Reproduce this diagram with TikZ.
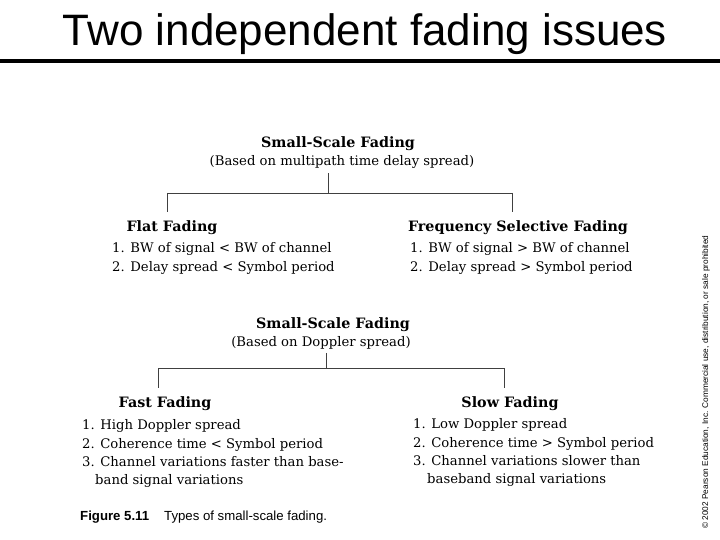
\documentclass[tikz,border=0pt]{standalone}
\usepackage{fontspec}
\setmainfont{DejaVu Serif}
\newfontfamily\titlefont{Liberation Sans}
\newfontfamily\dgfont{DejaVu Serif}
\begin{document}
\begin{tikzpicture}[x=1pt,y=-1pt,
  head/.style={inner sep=0pt,font=\dgfont\bfseries\fontsize{14.3}{16}\selectfont},
  body/.style={inner sep=0pt,font=\dgfont\fontsize{13.2}{15}\selectfont},
  conn/.style={draw=black!75,line width=0.9pt},
  capt/.style={inner sep=0pt,font=\titlefont\fontsize{13.2}{15}\selectfont}]
\useasboundingbox (0,0) rectangle (720,540);
\fill[white] (0,0) rectangle (720,540);
% title
\node[inner sep=0pt,anchor=base,font=\titlefont\fontsize{44}{48}\selectfont] (title) at (365,46) {Two independent fading issues};
\draw[line width=4pt] (0,61) -- (720,61);
% top tree
\node[head,anchor=base] (ssf1) at (338,148) {Small-Scale Fading};
\node[body,anchor=base] (based1) at (342,166) {(Based on multipath time delay spread)};
\coordinate (j1) at (328,193);
\coordinate (l1) at (167,193);
\coordinate (r1) at (512,193);
\draw[conn] (j1 |- based1.south) ++(0,4) -- (j1);
\draw[conn] (l1) -- (r1);
\draw[conn] (l1) -- (167,212);
\draw[conn] (r1) -- (512,212);
\node[head,anchor=base] (flat) at (172,232) {Flat Fading};
\node[body,anchor=base west] (flat1) at (112,252) {1. BW of signal < BW of channel};
\node[body,anchor=base west] (flat2) at (112,271) {2. Delay spread < Symbol period};
\node[head,anchor=base] (fsf) at (518,232) {Frequency Selective Fading};
\node[body,anchor=base west] (fsf1) at (410,252) {1. BW of signal > BW of channel};
\node[body,anchor=base west] (fsf2) at (410,271) {2. Delay spread > Symbol period};
% bottom tree
\node[head,anchor=base] (ssf2) at (333,328) {Small-Scale Fading};
\node[body,anchor=base] (based2) at (321,346) {(Based on Doppler spread)};
\coordinate (j2) at (326,368);
\coordinate (l2) at (158,368);
\coordinate (r2) at (504,368);
\draw[conn] (j2 |- based2.south) ++(0,4) -- (j2);
\draw[conn] (l2) -- (r2);
\draw[conn] (l2) -- (158,388);
\draw[conn] (r2) -- (504,388);
\node[head,anchor=base] (fast) at (165,407) {Fast Fading};
\node[body,anchor=base west] (fast1) at (82,429) {1. High Doppler spread};
\node[body,anchor=base west] (fast2) at (82,448) {2. Coherence time < Symbol period};
\node[body,anchor=base west] (fast3) at (82,466) {3. Channel variations faster than base-};
\node[body,anchor=base west] (fast4) at (95,484) {band signal variations};
\node[head,anchor=base] (slow) at (510,407) {Slow Fading};
\node[body,anchor=base west] (slow1) at (413,428) {1. Low Doppler spread};
\node[body,anchor=base west] (slow2) at (413,447) {2. Coherence time > Symbol period};
\node[body,anchor=base west] (slow3) at (413,465) {3. Channel variations slower than};
\node[body,anchor=base west] (slow4) at (427,483) {baseband signal variations};
% caption
\node[capt,anchor=base west] (cap) at (80,520) {\textbf{Figure 5.11}\hspace{15pt}Types of small-scale fading.};
% copyright
\node[inner sep=0pt,anchor=base west,rotate=90,font=\titlefont\fontsize{8.3}{9}\selectfont] (copy) at (708,529) {\textcopyright{} 2002 Pearson Education, Inc. Commercial use, distribution, or sale prohibited};
\end{tikzpicture}
\end{document}
